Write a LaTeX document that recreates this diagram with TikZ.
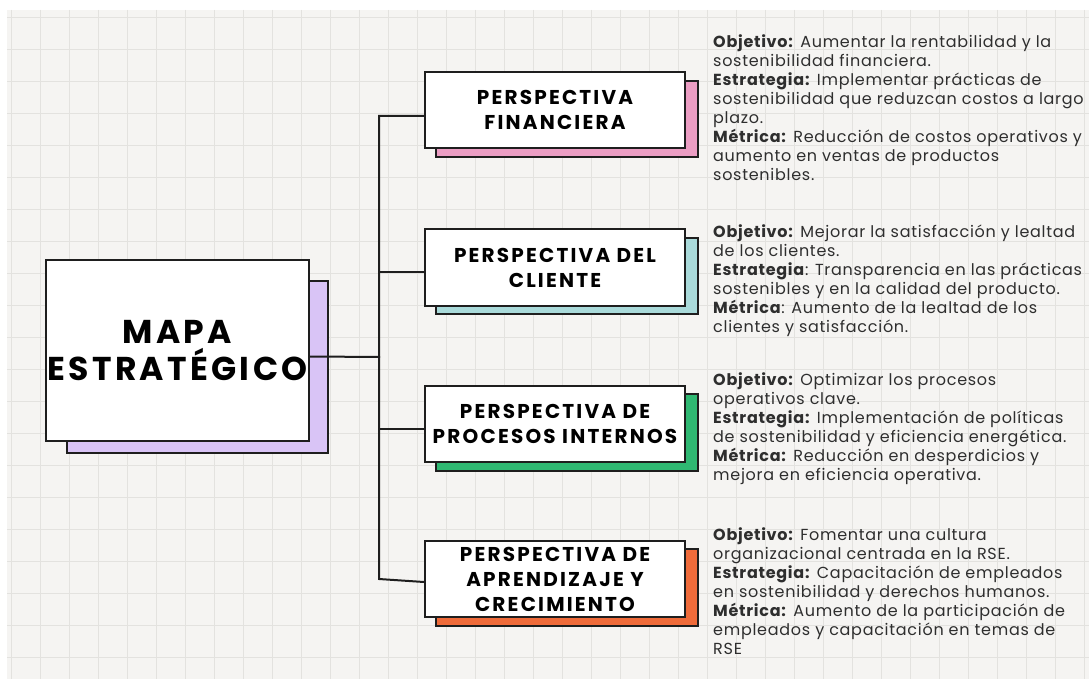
\documentclass[tikz,border=0pt]{standalone}
\usepackage{fontspec}
\setmainfont{Poppins}
\newfontfamily\bodyfont{Poppins}[LetterSpace=4.5]
\newfontfamily\headfont{Poppins}[LetterSpace=11]
\newfontfamily\titlefont{Poppins}[LetterSpace=10]
\definecolor{bgcol}{HTML}{F5F4F2}
\definecolor{gridcol}{HTML}{E3E2DF}
\definecolor{edge}{HTML}{1E1E1E}
\definecolor{purpleS}{HTML}{D9C4F6}
\definecolor{pinkS}{HTML}{EB9DC3}
\definecolor{tealS}{HTML}{A9DADA}
\definecolor{greenS}{HTML}{2FB872}
\definecolor{orangeS}{HTML}{EF6B3A}
\definecolor{txt}{HTML}{2E2E2E}
\tikzset{
  whitebox/.style={draw=edge, line width=2pt, fill=white, minimum width=260pt, minimum height=76pt, inner sep=0pt, align=center, font=\headfont\fontsize{20}{25}\selectfont\bfseries, text=black},
  shadowbox/.style={draw=edge, line width=2pt},
  link/.style={draw=edge, line width=2pt},
  info/.style={anchor=north west, align=left, inner sep=0pt, text=txt, font=\bodyfont\fontsize{16}{19}\selectfont},
}
\begin{document}
\begin{tikzpicture}[x=1pt,y=-1pt]
\useasboundingbox (0,0) rectangle (1089,679);
\fill[white] (0,0) rectangle (1089,679);
\fill[bgcol] (7,10) rectangle (1089,679);
\begin{scope}
\clip (7,10) rectangle (1089,679);
\foreach \x in {11,40,...,1100} \draw[gridcol, line width=0.8pt] (\x,10) -- (\x,679);
\foreach \y in {17,49,...,700} \draw[gridcol, line width=0.8pt] (7,\y) -- (1089,\y);
\end{scope}
% shadows
\draw[shadowbox, fill=purpleS] (67,281) rectangle (328,453);
\draw[shadowbox, fill=pinkS] (436,81) rectangle (698,157);
\draw[shadowbox, fill=tealS] (436,238) rectangle (698,314);
\draw[shadowbox, fill=greenS] (436,394) rectangle (698,471);
\draw[shadowbox, fill=orangeS] (436,549) rectangle (698,626);
% main box
\node[whitebox, minimum width=263pt, minimum height=181pt, font=\titlefont\fontsize{33}{37}\selectfont\bfseries] (main) at (177.5,350.5) {MAPA\\ESTRATÉGICO};
\node[whitebox] (fin) at (555,110) {PERSPECTIVA\\FINANCIERA};
\node[whitebox, minimum height=77pt] (cli) at (555,267.5) {PERSPECTIVA DEL\\CLIENTE};
\node[whitebox] (pro) at (555,424) {PERSPECTIVA DE\\PROCESOS INTERNOS};
\node[whitebox] (apr) at (555,579) {PERSPECTIVA DE\\APRENDIZAJE Y\\CRECIMIENTO};
\coordinate (j) at (380,357);
\draw[link] ([yshift=-6pt]main.east) -- (j);
\draw[link] ([yshift=-6pt]fin.west) -- ++(-45,0) coordinate (top) -- (top |- apr.west) -- ([yshift=-3pt]apr.west);
\draw[link] ([yshift=-4.5pt]cli.west) -- (380,272);
\draw[link] ([yshift=-5pt]pro.west) -- (380,429);
% texts
\node[info] (t1) at (713,34) {\textbf{Objetivo:} Aumentar la rentabilidad y la\\sostenibilidad financiera.\\\textbf{Estrategia:} Implementar prácticas de\\sostenibilidad que reduzcan costos a largo\\plazo.\\\textbf{Métrica:} Reducción de costos operativos y\\aumento en ventas de productos\\sostenibles.};
\node[info] (t2) at (713,224) {\textbf{Objetivo:} Mejorar la satisfacción y lealtad\\de los clientes.\\\textbf{Estrategia}: Transparencia en las prácticas\\sostenibles y en la calidad del producto.\\\textbf{Métrica}: Aumento de la lealtad de los\\clientes y satisfacción.};
\node[info] (t3) at (713,372) {\textbf{Objetivo:} Optimizar los procesos\\operativos clave.\\\textbf{Estrategia:} Implementación de políticas\\de sostenibilidad y eficiencia energética.\\\textbf{Métrica:} Reducción en desperdicios y\\mejora en eficiencia operativa.};
\node[info] (t4) at (713,527) {\textbf{Objetivo:} Fomentar una cultura\\organizacional centrada en la RSE.\\\textbf{Estrategia:} Capacitación de empleados\\en sostenibilidad y derechos humanos.\\\textbf{Métrica:} Aumento de la participación de\\empleados y capacitación en temas de\\RSE};
\end{tikzpicture}
\end{document}
